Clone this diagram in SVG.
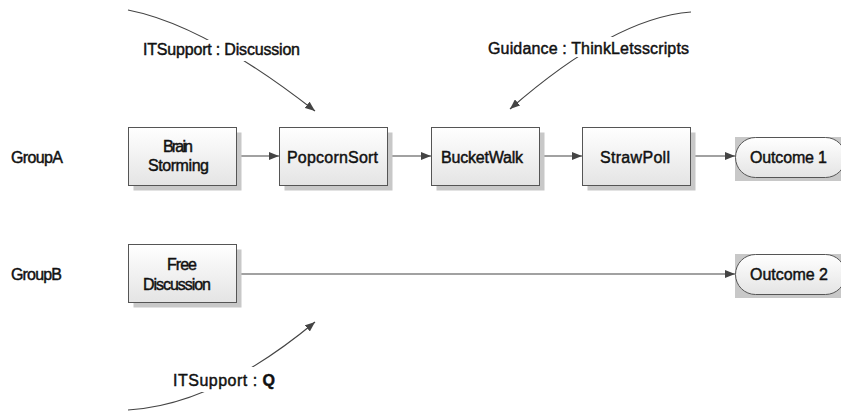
<svg xmlns="http://www.w3.org/2000/svg" width="841" height="413" viewBox="0 0 841 413">
<style>
text{font-family:"Liberation Sans",Arial,sans-serif;font-size:16px;fill:#111;stroke:#111;stroke-width:0.45px;}
.box{fill:url(#g);stroke:#555;stroke-width:1;}
.sh{fill:#c8c8c8;}
.cn{fill:none;stroke:#444;stroke-width:1.2;}
.bg{fill:#fff;}
</style>
<defs>
<linearGradient id="g" x1="0" y1="0" x2="0" y2="1"><stop offset="0" stop-color="#ffffff"/><stop offset="1" stop-color="#e4e4e4"/></linearGradient>
<marker id="ah" viewBox="0 0 10 8" refX="10" refY="4" markerWidth="10" markerHeight="8" markerUnits="userSpaceOnUse" orient="auto"><path d="M0,0 L10,4 L0,8 z" fill="#444"/></marker>
</defs>
<g id="connectors">
<path class="cn" d="M128,10 Q205,25 315,111" marker-end="url(#ah)"/>
<path class="cn" d="M691,12 Q614,18 510,109" marker-end="url(#ah)"/>
<path class="cn" d="M128,410 Q215,405 315,322" marker-end="url(#ah)"/>
<path class="cn" d="M237,156 L279,156" marker-end="url(#ah)"/>
<path class="cn" d="M388,156 L431,156" marker-end="url(#ah)"/>
<path class="cn" d="M539,156 L582,156" marker-end="url(#ah)"/>
<path class="cn" d="M691,156 L735,156" marker-end="url(#ah)"/>
<path class="cn" d="M237,274 L735,274" marker-end="url(#ah)"/>
<rect class="bg" x="140" y="40" width="164" height="21"/>
<text x="143" y="55" textLength="157" lengthAdjust="spacing">ITSupport : Discussion</text>
<rect class="bg" x="485" y="37" width="207" height="20"/>
<text x="488" y="54" textLength="201" lengthAdjust="spacing">Guidance : ThinkLetsscripts</text>
<rect class="bg" x="168" y="367" width="112" height="25"/>
<text x="173" y="386" textLength="102" lengthAdjust="spacing">ITSupport : <tspan font-weight="bold">Q</tspan></text>
</g>
<g id="groupA"><text x="11" y="163" textLength="52" lengthAdjust="spacing">GroupA</text></g>
<g id="groupB"><text x="11" y="280" textLength="51" lengthAdjust="spacing">GroupB</text></g>
<g id="brainstorming">
<rect class="sh" x="133.5" y="132.5" width="108" height="58"/>
<rect class="box" x="128.5" y="127.5" width="108" height="58"/>
<text x="163" y="152" textLength="30" lengthAdjust="spacing">Brain</text>
<text x="148" y="171" textLength="61" lengthAdjust="spacing">Storming</text>
</g>
<g id="popcornsort">
<rect class="sh" x="284.5" y="132.5" width="108" height="58"/>
<rect class="box" x="279.5" y="127.5" width="108" height="58"/>
<text x="287" y="163" textLength="91" lengthAdjust="spacing">PopcornSort</text>
</g>
<g id="bucketwalk">
<rect class="sh" x="436.5" y="132.5" width="108" height="58"/>
<rect class="box" x="431.5" y="127.5" width="108" height="58"/>
<text x="441" y="163" textLength="82" lengthAdjust="spacing">BucketWalk</text>
</g>
<g id="strawpoll">
<rect class="sh" x="587.5" y="132.5" width="108" height="58"/>
<rect class="box" x="582.5" y="127.5" width="108" height="58"/>
<text x="600" y="163" textLength="70" lengthAdjust="spacing">StrawPoll</text>
</g>
<g id="outcome1">
<rect class="sh" x="735" y="137" width="106" height="44"/>
<rect class="box" x="735.5" y="137.5" width="110" height="40" rx="20" ry="20"/>
<text x="750" y="163" textLength="77" lengthAdjust="spacing">Outcome 1</text>
</g>
<g id="freediscussion">
<rect class="sh" x="133.5" y="249.5" width="108" height="58"/>
<rect class="box" x="128.5" y="244.5" width="108" height="58"/>
<text x="167" y="270" textLength="30" lengthAdjust="spacing">Free</text>
<text x="143" y="290" textLength="68" lengthAdjust="spacing">Discussion</text>
</g>
<g id="outcome2">
<rect class="sh" x="735" y="254" width="106" height="44"/>
<rect class="box" x="735.5" y="254.5" width="110" height="40" rx="20" ry="20"/>
<text x="750" y="280" textLength="78" lengthAdjust="spacing">Outcome 2</text>
</g>
</svg>
